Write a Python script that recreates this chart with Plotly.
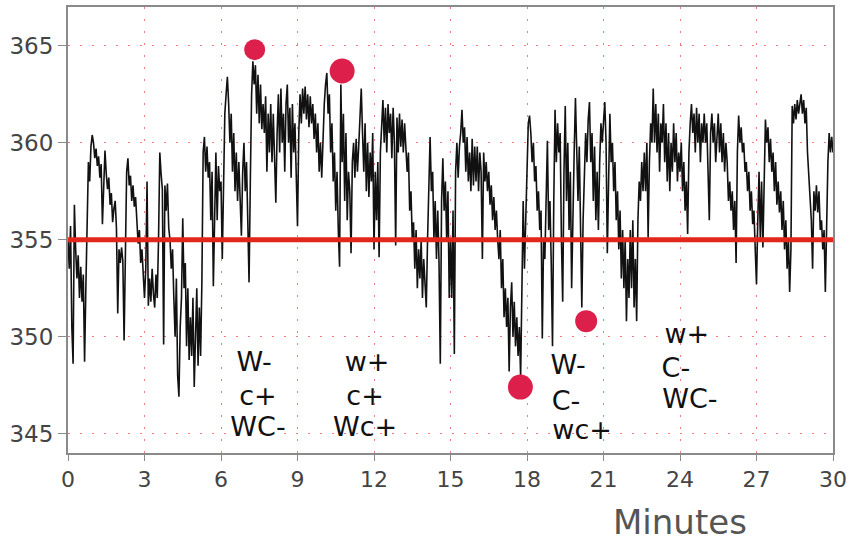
import numpy as np
import plotly.graph_objects as go

# CO2 trace (ppm), one value every 0.05 minute (20 per minute)
co2_ppm = [
    # 0
    355.0, 353.5, 355.7, 350.5, 348.6, 356.8, 354.5, 353.0, 354.2, 352.0, 353.6, 351.8, 353.2, 348.7, 352.5, 356.5, 359.0, 358.0, 359.8, 360.4,
    # 1
    360.0, 359.2, 359.7, 358.8, 359.3, 358.2, 358.9, 355.8, 358.0, 359.6, 358.4, 357.6, 358.2, 356.8, 357.4, 355.9, 356.6, 357.0, 355.6, 351.2,
    # 2
    354.5, 353.8, 354.6, 353.9, 349.8, 355.5, 358.5, 359.2, 357.8, 358.3, 357.0, 357.8, 356.7, 357.2, 356.0, 354.8, 355.5, 353.8, 354.5, 353.0,
    # 3
    352.0, 353.5, 358.0, 351.6, 353.0, 351.8, 353.5, 352.2, 351.5, 353.2, 352.0, 355.0, 359.5, 358.4, 357.6, 349.6, 357.8, 356.5, 357.9, 355.6,
    # 4
    355.0, 353.5, 354.5, 352.0, 350.0, 353.0, 348.0, 346.9, 350.5, 352.0, 356.1, 352.5, 353.8, 349.5, 352.5, 348.8, 351.0, 349.0, 352.0, 347.4,
    # 5
    350.0, 352.5, 348.5, 351.5, 349.0, 352.8, 359.5, 360.3, 358.5, 359.8, 358.2, 359.0, 356.0, 358.5, 352.6, 357.0, 359.5, 356.0, 358.8, 357.5,
    # 6
    358.0, 354.0, 358.5, 361.5, 362.5, 363.4, 362.0, 360.0, 361.5, 358.5, 360.5, 357.5, 359.5, 357.0, 359.0, 356.5, 355.2, 358.5, 360.0, 357.5,
    # 7
    359.0, 356.0, 352.8, 358.0, 362.5, 364.2, 363.0, 364.0, 361.5, 363.5, 361.0, 363.0, 360.7, 362.0, 360.5, 362.4, 358.5, 361.5, 359.5, 362.0,
    # 8
    359.0, 361.5, 358.5, 356.9, 360.5, 362.5, 359.5, 362.8, 360.0, 361.5, 358.5, 362.0, 363.0, 360.0, 361.8, 358.2, 362.0, 359.5, 361.0, 358.5,
    # 9
    355.7, 360.5, 362.5, 361.0, 362.8, 361.5, 362.9, 361.2, 362.5, 360.8, 362.4, 361.0, 362.0, 360.2, 361.5, 359.5, 361.0, 358.5, 360.0, 358.2,
    # 10
    360.5, 362.0, 363.0, 363.6, 361.5, 362.5, 359.5, 361.0, 358.0, 359.5, 356.5, 358.5, 355.5, 353.6, 363.0, 359.0, 361.5, 357.0, 360.5, 356.0,
    # 11
    358.5, 357.5, 354.3, 359.0, 360.0, 358.2, 360.2, 358.5, 359.8, 361.0, 362.8, 360.5, 358.5, 361.0, 357.5, 360.0, 357.2, 359.5, 358.0, 360.5,
    # 12
    354.5, 358.5, 356.0, 359.0, 354.1, 359.5, 361.0, 362.2, 360.0, 361.8, 359.5, 362.0, 360.5, 361.5, 359.2, 361.8, 360.0, 354.7, 361.3, 359.5,
    # 13
    361.5, 359.8, 361.2, 359.5, 361.0, 360.0, 358.5, 359.5, 356.5, 357.5, 355.0, 355.9, 353.5, 355.5, 352.5, 354.5, 353.0, 355.0, 352.0, 354.0,
    # 14
    352.5, 351.5, 355.0, 358.0, 360.3, 357.5, 358.5, 355.0, 357.0, 354.0, 356.5, 353.8, 348.6, 357.0, 359.2, 356.5, 358.0, 355.0, 357.5, 352.0,
    # 15
    355.0, 352.0, 356.5, 349.1, 358.5, 360.0, 358.2, 359.8, 360.5, 361.7, 360.0, 360.8, 358.5, 360.3, 358.0, 359.5, 357.5, 360.2, 357.8, 359.8,
    # 16
    358.0, 359.8, 357.5, 359.5, 358.5, 354.0, 359.5, 358.0, 359.0, 357.5, 358.5, 356.8, 357.8, 356.0, 357.2, 355.5, 356.5, 355.0, 354.0, 355.5,
    # 17
    352.5, 354.0, 351.0, 352.5, 350.5, 352.0, 348.2, 351.5, 352.8, 350.0, 351.8, 349.5, 351.0, 349.0, 350.5, 347.9, 354.0, 357.0, 353.5, 356.0,
    # 18
    359.8, 361.0, 361.4, 360.5, 359.0, 360.0, 358.0, 358.8, 356.5, 357.5, 355.5, 356.5, 349.9, 355.0, 354.0, 356.5, 360.1, 355.5, 357.0, 353.8,
    # 19
    349.5, 357.0, 361.7, 359.0, 361.0, 359.5, 360.5, 355.0, 351.8, 358.5, 361.9, 357.0, 360.0, 355.5, 358.5, 352.5, 357.0, 359.5, 362.3, 359.0,
    # 20
    357.0, 359.8, 355.5, 351.5, 356.0, 358.5, 360.5, 359.0, 361.2, 362.1, 359.0, 360.5, 357.0, 359.8, 356.0, 358.5, 355.5, 359.0, 361.0, 360.0,
    # 21
    361.0, 362.1, 360.0, 354.3, 358.0, 361.5, 359.0, 360.0, 357.5, 359.0, 356.0, 357.5, 354.5, 356.5, 353.0, 355.5, 352.5, 355.0, 350.8, 354.0,
    # 22
    352.0, 355.5, 352.5, 356.0, 351.5, 354.0, 350.8, 356.0, 358.0, 357.0, 359.0, 357.5, 359.5, 357.5, 360.0, 355.1, 359.0, 361.0, 360.0, 362.8,
    # 23
    360.0, 362.0, 359.5, 361.5, 358.5, 361.0, 360.0, 362.0, 359.0, 361.0, 358.0, 360.5, 357.5, 360.0, 358.5, 361.0, 359.0, 360.5, 358.0, 359.5,
    # 24
    358.5, 360.0, 357.5, 359.0, 356.5, 358.0, 355.3, 359.5, 361.0, 362.0, 360.5, 361.5, 359.5, 361.8, 360.0, 361.5, 359.0, 361.0, 360.0, 361.5,
    # 25
    360.0, 361.0, 358.5, 356.0, 360.5, 361.5, 360.0, 361.0, 359.0, 360.5, 361.5, 359.5, 361.0, 359.0, 360.5, 358.5, 360.0, 359.0, 357.0, 358.0,
    # 26
    356.5, 357.5, 355.5, 357.0, 353.8, 359.5, 361.4, 360.0, 360.8, 359.5, 360.0, 358.5, 359.0, 357.5, 358.5, 356.5, 357.5, 355.8, 356.5, 354.5,
    # 27
    352.7, 356.0, 358.5, 355.0, 358.0, 354.6, 357.5, 361.2, 360.0, 360.8, 359.0, 360.2, 358.5, 359.5, 357.5, 359.0, 356.8, 358.0, 356.4, 357.5,
    # 28
    355.5, 357.0, 354.5, 356.0, 353.5, 355.0, 352.3, 354.5, 361.9, 361.0, 362.0, 361.2, 362.2, 361.5, 362.0, 362.5, 361.5, 362.2, 361.0, 361.8,
    # 29
    359.5, 358.5, 357.0, 356.0, 353.5, 357.5, 356.5, 357.8, 356.4, 357.5, 355.5, 356.0, 354.5, 355.5, 352.3, 356.0, 359.0, 360.5, 359.5, 360.3,
    # 30
    359.5,
]
sample_step_min = 0.05
minutes = [round(i * sample_step_min, 2) for i in range(len(co2_ppm))]

# reference level
baseline_x = [0, 30]
baseline_y = [355, 355]

# highlighted events
event_x = [7.32, 10.75, 17.74, 20.32]
event_y = [364.8, 363.7, 347.4, 350.8]
event_size = [21, 25, 25, 22]

# condition labels (x in minutes, y in ppm)
label_text = ["W-", "c+", "WC-",
              "w+", "c+", "Wc+",
              "W-", "C-", "wc+",
              "w+", "C-", "WC-"]
label_x = [7.3, 7.45, 7.45,
           11.73, 11.65, 11.65,
           19.61, 19.53, 20.16,
           24.27, 23.84, 24.39]
label_y = [348.6, 346.83, 345.24,
           348.6, 346.83, 345.24,
           348.4, 346.58, 345.08,
           350.0, 348.28, 346.68]

x_ticks = list(range(0, 31, 3))
y_ticks = [345, 350, 355, 360, 365]

fig = go.Figure()
fig.add_trace(go.Scatter(x=minutes, y=co2_ppm, mode="lines",
                         line=dict(color="#111111", width=1.6),
                         hoverinfo="skip", showlegend=False))
fig.add_trace(go.Scatter(x=baseline_x, y=baseline_y, mode="lines",
                         line=dict(color="#e2261b", width=5),
                         showlegend=False))
fig.add_trace(go.Scatter(x=event_x, y=event_y, mode="markers",
                         marker=dict(color="#dc1f4b", size=event_size, opacity=1,
                                     line=dict(width=0)),
                         opacity=1, showlegend=False))
fig.add_trace(go.Scatter(x=label_x, y=label_y, mode="text", text=label_text,
                         textfont=dict(family="DejaVu Sans", size=27, color="#111111"),
                         showlegend=False, cliponaxis=False))

axis_common = dict(
    showline=True, linecolor="#8a8a8a", linewidth=2, mirror=True,
    ticks="outside", tickcolor="#8a8a8a", tickwidth=1,
    showgrid=True, gridcolor="#ef7b7b", gridwidth=1, griddash="2px,10px",
    zeroline=False, automargin=False,
)
fig.update_xaxes(range=[0, 30], tickvals=x_ticks, ticklen=6,
                 tickfont=dict(family="DejaVu Sans", size=22, color="#444444"),
                 **axis_common)
fig.update_yaxes(range=[344, 367], tickvals=y_ticks, ticklen=8,
                 tickfont=dict(family="DejaVu Sans", size=23, color="#444444"),
                 **axis_common)

fig.add_annotation(text="Minutes", xref="paper", yref="paper", x=0.8, y=-0.155,
                   showarrow=False, xanchor="center", yanchor="middle",
                   font=dict(family="DejaVu Sans", size=34, color="#555555"))

fig.update_layout(
    width=849, height=541,
    margin=dict(l=68, r=16, t=7, b=88),
    paper_bgcolor="white", plot_bgcolor="white",
    hovermode=False,
)

fig.write_html("out.html",
               config={"displayModeBar": False},
               post_script="document.body.style.margin='0px';document.body.style.overflow='hidden';")
